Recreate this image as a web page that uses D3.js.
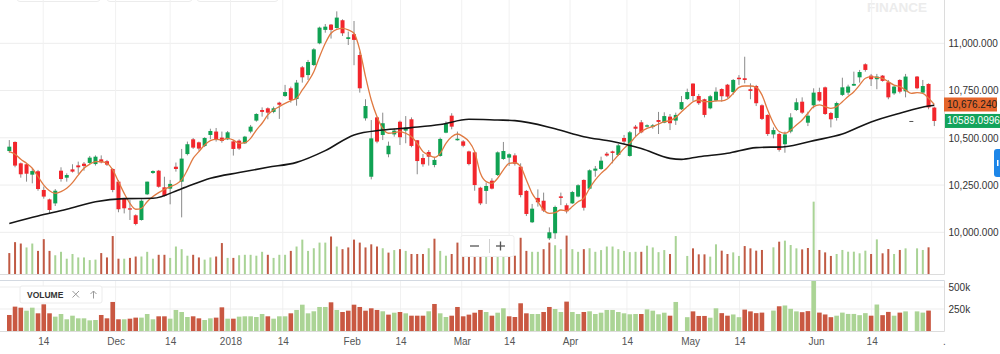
<!DOCTYPE html>
<html><head><meta charset="utf-8">
<script src="https://cdn.jsdelivr.net/npm/d3@7"></script>
<style>body{margin:0;background:#fff;overflow:hidden} svg{display:block;font-family:"Liberation Sans",Arial,Helvetica,sans-serif;}</style>
</head><body><svg id="c" width="1000" height="354"></svg>
<script>
// ---- data ----
const open=[10430,10478,10365,10360,10305,10323,10224,10174,10153,10326,10289,10333,10354,10363,10367,10361,10386,10376,10335,10268,10176,10127,10090,10065,10201,10314,10326,10238,10231,10347,10268,10414,10492,10476,10457,10515,10533,10501,10492,10481,10485,10471,10533,10591,10647,10656,10637,10686,10721,10762,10705,10873,10832,10885,11000,11071,11099,11081,11122,11023,11048,10938,10603,10294,10608,10515,10413,10518,10585,10538,10598,10487,10393,10425,10356,10404,10527,10617,10487,10481,10428,10423,10236,10219,10273,10303,10388,10395,10407,10347,10219,10053,10182,10167,9968,9995,10190,10143,10153,10189,10277,10231,10326,10335,10416,10428,10409,10499,10404,10559,10582,10559,10557,10594,10580,10612,10591,10651,10705,10787,10721,10704,10656,10697,10758,10781,10742,10818,10815,10757,10774,10672,10621,10518,10520,10466,10533,10647,10691,10580,10672,10742,10767,10631,10605,10727,10739,10776,10820,10889,10829,10810,10829,10794,10735,10806,10746,10589,10824,10739,10785,10660];
const high=[10488,10481,10369,10365,10335,10330,10242,10178,10229,10344,10312,10360,10374,10372,10404,10407,10407,10383,10339,10277,10180,10171,10095,10174,10268,10328,10330,10294,10277,10369,10441,10480,10499,10480,10503,10548,10552,10533,10536,10487,10492,10510,10568,10630,10661,10661,10665,10691,10780,10771,10806,10880,10912,10974,11088,11102,11102,11169,11127,11062,11118,10956,10704,10594,10612,10633,10480,10550,10591,10615,10608,10488,10414,10435,10395,10501,10587,10630,10533,10488,10432,10427,10241,10263,10286,10428,10478,10418,10418,10365,10224,10150,10227,10210,10026,10141,10210,10153,10219,10254,10280,10333,10351,10400,10425,10432,10467,10515,10536,10568,10594,10571,10573,10637,10635,10626,10633,10721,10760,10788,10732,10707,10727,10767,10762,10785,10811,10832,10929,10788,10780,10677,10624,10555,10527,10533,10630,10709,10714,10638,10762,10765,10771,10637,10691,10818,10781,10850,10859,10894,10838,10838,10832,10806,10774,10810,10838,10589,10827,10806,10788,10665];
const low=[10421,10344,10289,10268,10259,10220,10178,10100,10139,10268,10268,10316,10309,10326,10361,10353,10365,10351,10212,10106,10100,10065,10037,10062,10197,10309,10236,10189,10148,10321,10079,10407,10441,10432,10451,10492,10480,10474,10488,10406,10436,10467,10524,10585,10612,10598,10630,10600,10716,10686,10670,10792,10806,10880,10995,11056,11025,11078,11039,10991,10884,10739,10591,10280,10471,10488,10397,10506,10462,10471,10450,10307,10347,10353,10344,10400,10524,10545,10485,10450,10354,10220,10144,10150,10227,10298,10383,10351,10353,10185,10086,10049,10136,10107,9959,9965,10144,10100,10150,10185,10115,10227,10294,10330,10400,10365,10404,10467,10400,10503,10524,10555,10548,10520,10577,10541,10568,10647,10700,10693,10674,10608,10651,10691,10691,10711,10728,10780,10788,10704,10668,10594,10510,10497,10427,10421,10524,10642,10626,10562,10656,10691,10621,10555,10591,10721,10727,10774,10792,10850,10774,10757,10797,10704,10727,10735,10714,10589,10757,10735,10651,10562];
const close=[10453,10353,10307,10310,10324,10229,10189,10118,10220,10282,10303,10321,10344,10351,10395,10400,10370,10358,10224,10122,10127,10120,10044,10167,10268,10324,10241,10192,10256,10335,10390,10466,10448,10443,10499,10536,10492,10483,10529,10441,10443,10506,10559,10626,10637,10633,10656,10675,10742,10700,10792,10820,10901,10968,11083,11088,11071,11136,11053,11032,11018,10762,10668,10497,10480,10577,10458,10538,10503,10554,10457,10377,10360,10400,10383,10494,10573,10559,10495,10458,10361,10250,10153,10245,10231,10423,10430,10413,10363,10197,10097,10125,10159,10115,10000,10134,10182,10111,10213,10249,10130,10328,10337,10379,10406,10420,10460,10480,10529,10548,10529,10566,10566,10584,10615,10577,10621,10689,10742,10721,10683,10621,10720,10744,10720,10718,10806,10810,10806,10748,10683,10600,10520,10541,10436,10518,10608,10688,10633,10617,10739,10697,10626,10598,10684,10767,10771,10785,10848,10859,10810,10824,10801,10714,10771,10744,10824,10589,10762,10774,10661,10589.0996];
// volume in thousands (null = no bar)
const volume=[182,277,265,231,265,201,303,201,163,193,133,174,144,144,121,125,182,144,330,133,133,140,152,152,193,133,167,167,140,239,216,159,167,144,125,144,152,269,140,140,163,167,167,159,193,167,140,167,167,201,239,299,201,224,273,273,326,239,216,231,299,273,231,258,239,224,186,208,216,201,174,174,174,224,307,201,159,174,273,167,186,208,239,216,174,208,258,167,159,315,201,193,193,216,273,250,216,334,216,193,216,224,193,208,239,239,216,201,190,193,193,246,231,190,208,174,330,null,157,223,171,171,151,258,203,174,188,157,243,223,203,209,null,232,281,290,252,223,214,226,629,209,188,157,174,209,194,194,180,203,174,301,180,217,174,209,223,null,223,209,232,null];
// short moving average (orange), one value per candle
const fastMA=[10427,10413,10386,10365,10339,10294,10250,10220,10206,10215,10233,10263,10303,10339,10360,10374,10374,10365,10330,10268,10206,10153,10122,10127,10162,10189,10210,10227,10241,10254,10277,10330,10391,10427,10462,10485,10492,10488,10497,10488,10471,10474,10497,10541,10577,10621,10647,10665,10682,10697,10709,10753,10797,10850,10929,11000,11053,11074,11079,11071,11053,10965,10824,10700,10612,10550,10524,10527,10533,10524,10506,10471,10427,10409,10397,10418,10471,10506,10520,10506,10480,10427,10312,10268,10259,10286,10330,10365,10368,10347,10277,10206,10162,10118,10100,10104,10118,10114,10136,10162,10180,10233,10277,10312,10339,10374,10409,10444,10471,10506,10533,10550,10559,10573,10585,10591,10608,10638,10665,10691,10700,10691,10691,10695,10695,10705,10735,10767,10774,10774,10767,10727,10647,10577,10533,10524,10541,10568,10594,10630,10665,10674,10665,10656,10665,10691,10718,10744,10779,10815,10824,10820,10815,10797,10779,10771,10753,10735,10739,10735,10709,10676.24];
// long moving average (black), sampled at candle indices
const slowIdx=[0,5,10,15,20,25,30,35,40,45,50,55,60,65,70,75,80,85,88,95,100,105,110,115,117,120,125,130,135,140,145,150,155,160,161];
const slowMA=[10047,10086,10122,10162,10178,10180,10231,10286,10316,10344,10370,10432,10515,10541,10554,10570,10598,10594,10591,10548,10506,10480,10443,10391,10386,10400,10418,10448,10453,10485,10520,10584,10630,10668,10672];
const priceTicks=[11000,10750,10500,10250,10000];
const volumeTicks=[500,250];
const timeTickPos=[5.9,18.5,28,38.5,47.6,59.6,68.1,78.75,87,97.6,107.5,118.5,127.1,140.4,150.1];
const timeTickLabels=["14","Dec","14","2018","14","Feb","14","Mar","14","Apr","14","May","14","Jun","14"];

// ---- drawing ----
const svg=d3.select('#c');
const N=close.length;
const x=d3.scaleLinear().domain([0,N-1]).range([9.3,934.3]);
const y=d3.scaleLinear().domain([10000,11000]).range([232.3,43.3]);
const yOv=d3.scaleLinear().domain([0,650]).range([274,199.25]);
const yVol=d3.scaleLinear().domain([0,500]).range([331,287]);
const AX=944.5;
const up=i=> i>0 && close[i]>=close[i-1];

// faint cards at very top
[[17,100],[107,192],[197,278]].forEach(([a,b])=>{
  svg.append('rect').attr('x',a).attr('y',-20).attr('width',b-a).attr('height',21.5).attr('rx',3)
    .attr('fill','#fff').attr('stroke','#ececec');
});
// watermark
svg.append('text').attr('x',867).attr('y',12).attr('font-size',13.5).attr('font-weight','bold')
  .attr('fill','#ececec').text('FINANCE');

// grids
const g=svg.append('g');
g.selectAll('.hg').data(priceTicks).join('line').attr('x1',0).attr('x2',AX).attr('y1',d=>y(d)).attr('y2',d=>y(d))
  .attr('stroke','#ededed');
g.selectAll('.vg').data(timeTickPos).join('line').attr('x1',d=>x(d)).attr('x2',d=>x(d)).attr('y1',0).attr('y2',274)
  .attr('stroke','#f1f1f1');
g.selectAll('.vg2').data(timeTickPos).join('line').attr('x1',d=>x(d)).attr('x2',d=>x(d)).attr('y1',281).attr('y2',331)
  .attr('stroke','#f1f1f1');
g.selectAll('.vh').data(volumeTicks).join('line').attr('x1',0).attr('x2',AX).attr('y1',d=>yVol(d)).attr('y2',d=>yVol(d))
  .attr('stroke','#ededed');

// volume overlay in price panel
const idx=d3.range(N);
svg.append('g').selectAll('rect').data(idx.filter(i=>volume[i]!=null)).join('rect')
  .attr('x',i=>x(i)-1).attr('width',2).attr('y',i=>yOv(volume[i])).attr('height',i=>274-yOv(volume[i]))
  .attr('fill',i=>up(i)?'#a9d396':'#c05a44');

// borders
svg.append('line').attr('x1',0).attr('x2',AX).attr('y1',274.5).attr('y2',274.5).attr('stroke','#dcdcdc');
svg.append('line').attr('x1',AX).attr('x2',AX).attr('y1',0).attr('y2',274.5).attr('stroke','#dcdcdc');
svg.append('line').attr('x1',0).attr('x2',AX).attr('y1',280.5).attr('y2',280.5).attr('stroke','#d3d9e1');
svg.append('line').attr('x1',0).attr('x2',AX).attr('y1',331.5).attr('y2',331.5).attr('stroke','#dcdcdc');
svg.append('line').attr('x1',AX).attr('x2',AX).attr('y1',280.5).attr('y2',331.5).attr('stroke','#dcdcdc');

// lower volume panel
svg.append('defs').append('clipPath').attr('id','vclip').append('rect').attr('x',0).attr('y',281).attr('width',AX).attr('height',50);
svg.append('g').attr('clip-path','url(#vclip)').selectAll('rect').data(idx.filter(i=>volume[i]!=null)).join('rect')
  .attr('x',i=>x(i)-2.3).attr('width',4.6).attr('y',i=>yVol(volume[i])).attr('height',i=>331-yVol(volume[i]))
  .attr('fill',i=>up(i)?'#abd495':'#c95842');

// candles
const cg=svg.append('g');
cg.selectAll('line').data(idx).join('line').attr('x1',i=>x(i)).attr('x2',i=>x(i))
  .attr('y1',i=>y(high[i])).attr('y2',i=>y(low[i])).attr('stroke','#8a8a8a').attr('stroke-width',1);
cg.selectAll('rect').data(idx).join('rect').attr('x',i=>x(i)-2).attr('width',4)
  .attr('y',i=>Math.min(y(open[i]),y(close[i])))
  .attr('height',i=>Math.max(1,Math.abs(y(open[i])-y(close[i]))))
  .attr('fill',i=>close[i]>open[i]?'#10a253':(close[i]<open[i]?'#f2262c':'#555'));

// moving averages
svg.append('path').datum(fastMA).attr('fill','none').attr('stroke','#e07a42').attr('stroke-width',1.3)
  .attr('d',d3.line().x((d,i)=>x(i)).y(d=>y(d)).curve(d3.curveMonotoneX));
svg.append('path').datum(slowIdx.map((k,j)=>[k,slowMA[j]])).attr('fill','none').attr('stroke','#151515').attr('stroke-width',1.6)
  .attr('d',d3.line().x(d=>x(d[0])).y(d=>y(d[1])).curve(d3.curveMonotoneX));

// right price axis
const ay=svg.append('g').attr('transform',`translate(${AX},0)`)
  .call(d3.axisRight(y).tickValues(priceTicks).tickFormat(d3.format(',.3f')).tickSize(0).tickPadding(4));
ay.select('.domain').remove();
ay.selectAll('text').attr('font-size',10).attr('fill','#333').attr('font-family','"Liberation Sans",Arial,sans-serif');
const av=svg.append('g').attr('transform',`translate(${AX},0)`)
  .call(d3.axisRight(yVol).tickValues(volumeTicks).tickFormat(d=>d+'k').tickSize(0).tickPadding(4));
av.select('.domain').remove();
av.selectAll('text').attr('font-size',10).attr('fill','#333').attr('font-family','"Liberation Sans",Arial,sans-serif');

// time axis
const ax=svg.append('g').attr('transform','translate(0,332)')
  .call(d3.axisBottom(x).tickValues(timeTickPos).tickFormat((d,i)=>timeTickLabels[i]).tickSize(0).tickPadding(6));
ax.select('.domain').remove();
ax.selectAll('text').attr('font-size',10).attr('fill','#555').attr('font-family','"Liberation Sans",Arial,sans-serif');
svg.append('text').attr('x',943).attr('y',345).attr('font-size',10).attr('fill','#555').text('.');

// last-value labels
const lastFast=fastMA[N-1], lastClose=close[N-1];
svg.append('rect').attr('x',944).attr('y',y(lastFast)-7).attr('width',53).attr('height',14).attr('fill','#e4652b');
svg.append('text').attr('x',947).attr('y',y(lastFast)).attr('dy','0.35em').attr('font-size',10).attr('fill','#1c1c1c')
  .text(d3.format(',.3f')(lastFast));
const gy=Math.max(y(lastClose),y(lastFast)+16);
svg.append('rect').attr('x',945).attr('y',gy-7).attr('width',56).attr('height',14).attr('fill','#13a35b');
svg.append('text').attr('x',947).attr('y',gy).attr('dy','0.35em').attr('font-size',10).attr('fill','#fff')
  .text(lastClose.toFixed(4));

// blue side tab
svg.append('rect').attr('x',994).attr('y',149).attr('width',12).attr('height',28).attr('rx',3).attr('fill','#1d86e8');
svg.append('rect').attr('x',997).attr('y',160).attr('width',1.5).attr('height',6).attr('fill','#fff');

// zoom widget
const zw=svg.append('g');
zw.append('rect').attr('x',461).attr('y',235.5).attr('width',53).attr('height',21).attr('rx',2)
  .attr('fill','#fff').attr('stroke','#eeeeee');
zw.append('line').attr('x1',470).attr('x2',479).attr('y1',246).attr('y2',246).attr('stroke','#555').attr('stroke-width',1.3);
zw.append('line').attr('x1',489.5).attr('x2',489.5).attr('y1',239).attr('y2',253).attr('stroke','#cfcfcf');
zw.append('line').attr('x1',496).attr('x2',505).attr('y1',246).attr('y2',246).attr('stroke','#555').attr('stroke-width',1.3);
zw.append('line').attr('x1',500.5).attr('x2',500.5).attr('y1',241.5).attr('y2',250.5).attr('stroke','#555').attr('stroke-width',1.3);

// volume legend box
const vb=svg.append('g');
vb.append('rect').attr('x',20).attr('y',286).attr('width',82).attr('height',17).attr('rx',2)
  .attr('fill','#fff').attr('stroke','#ececec');
vb.append('text').attr('x',27).attr('y',297.5).attr('font-size',8.5).attr('font-weight',600).attr('fill','#333').text('VOLUME');
vb.append('path').attr('d','M72.5,291 L79,297.5 M79,291 L72.5,297.5').attr('stroke','#9a9a9a').attr('stroke-width',1).attr('fill','none');
vb.append('path').attr('d','M93.5,291 L93.5,298.5 M90.5,294 L93.5,291 L96.5,294').attr('stroke','#9a9a9a').attr('stroke-width',1).attr('fill','none');
</script></body></html>
